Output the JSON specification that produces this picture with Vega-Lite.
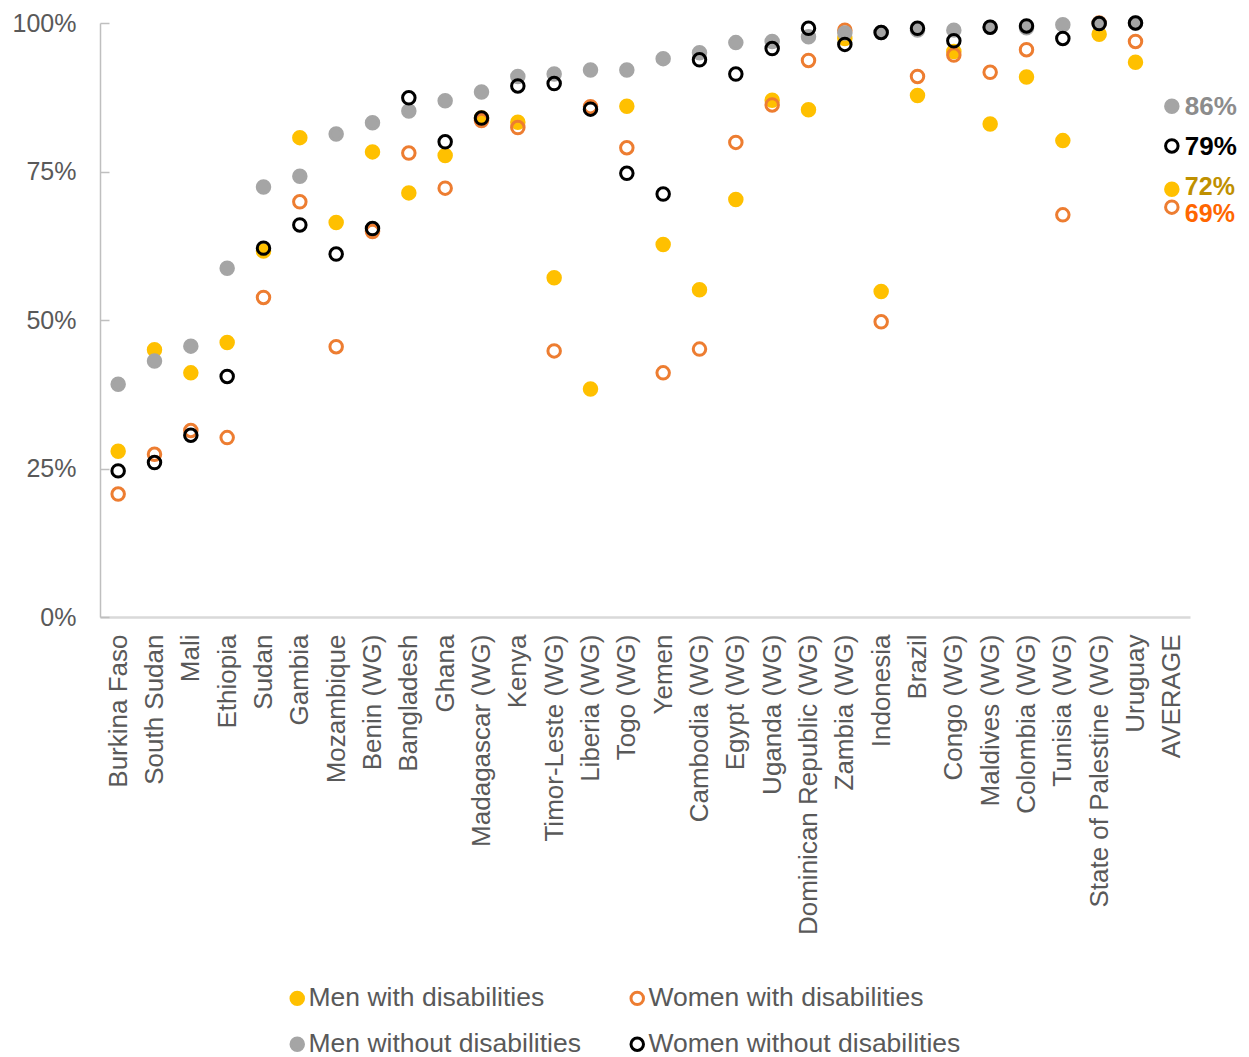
{
  "$schema": "https://vega.github.io/schema/vega-lite/v6.json",
  "width": 1090,
  "height": 594,
  "autosize": {"type": "none"},
  "padding": {"left": 100, "top": 23, "right": 59, "bottom": 440},
  "background": "white",
  "config": {
    "view": {"stroke": null},
    "font": "Liberation Sans",
    "axis": {"labelFont": "Liberation Sans", "labelColor": "#595959", "grid": false, "title": null}
  },
  "data": {
    "values": [
      {"Country": "Burkina Faso", "Men with disabilities": 0.279, "Women with disabilities": 0.207, "Men without disabilities": 0.392, "Women without disabilities": 0.246},
      {"Country": "South Sudan", "Men with disabilities": 0.450, "Women with disabilities": 0.274, "Men without disabilities": 0.431, "Women without disabilities": 0.260},
      {"Country": "Mali", "Men with disabilities": 0.411, "Women with disabilities": 0.314, "Men without disabilities": 0.456, "Women without disabilities": 0.306},
      {"Country": "Ethiopia", "Men with disabilities": 0.462, "Women with disabilities": 0.302, "Men without disabilities": 0.587, "Women without disabilities": 0.405},
      {"Country": "Sudan", "Men with disabilities": 0.616, "Women with disabilities": 0.538, "Men without disabilities": 0.724, "Women without disabilities": 0.621},
      {"Country": "Gambia", "Men with disabilities": 0.807, "Women with disabilities": 0.699, "Men without disabilities": 0.742, "Women without disabilities": 0.660},
      {"Country": "Mozambique", "Men with disabilities": 0.664, "Women with disabilities": 0.455, "Men without disabilities": 0.813, "Women without disabilities": 0.611},
      {"Country": "Benin (WG)", "Men with disabilities": 0.783, "Women with disabilities": 0.649, "Men without disabilities": 0.832, "Women without disabilities": 0.654},
      {"Country": "Bangladesh", "Men with disabilities": 0.714, "Women with disabilities": 0.781, "Men without disabilities": 0.852, "Women without disabilities": 0.874},
      {"Country": "Ghana", "Men with disabilities": 0.777, "Women with disabilities": 0.722, "Men without disabilities": 0.869, "Women without disabilities": 0.800},
      {"Country": "Madagascar (WG)", "Men with disabilities": 0.840, "Women with disabilities": 0.836, "Men without disabilities": 0.884, "Women without disabilities": 0.840},
      {"Country": "Kenya", "Men with disabilities": 0.833, "Women with disabilities": 0.824, "Men without disabilities": 0.910, "Women without disabilities": 0.894},
      {"Country": "Timor-Leste (WG)", "Men with disabilities": 0.571, "Women with disabilities": 0.448, "Men without disabilities": 0.914, "Women without disabilities": 0.898},
      {"Country": "Liberia (WG)", "Men with disabilities": 0.384, "Women with disabilities": 0.859, "Men without disabilities": 0.921, "Women without disabilities": 0.855},
      {"Country": "Togo (WG)", "Men with disabilities": 0.860, "Women with disabilities": 0.790, "Men without disabilities": 0.921, "Women without disabilities": 0.747},
      {"Country": "Yemen", "Men with disabilities": 0.627, "Women with disabilities": 0.411, "Men without disabilities": 0.940, "Women without disabilities": 0.712},
      {"Country": "Cambodia (WG)", "Men with disabilities": 0.551, "Women with disabilities": 0.451, "Men without disabilities": 0.950, "Women without disabilities": 0.938},
      {"Country": "Egypt (WG)", "Men with disabilities": 0.703, "Women with disabilities": 0.799, "Men without disabilities": 0.967, "Women without disabilities": 0.914},
      {"Country": "Uganda (WG)", "Men with disabilities": 0.870, "Women with disabilities": 0.862, "Men without disabilities": 0.969, "Women without disabilities": 0.957},
      {"Country": "Dominican Republic (WG)", "Men with disabilities": 0.854, "Women with disabilities": 0.937, "Men without disabilities": 0.977, "Women without disabilities": 0.991},
      {"Country": "Zambia (WG)", "Men with disabilities": 0.974, "Women with disabilities": 0.988, "Men without disabilities": 0.983, "Women without disabilities": 0.964},
      {"Country": "Indonesia", "Men with disabilities": 0.548, "Women with disabilities": 0.497, "Men without disabilities": 0.984, "Women without disabilities": 0.984},
      {"Country": "Brazil", "Men with disabilities": 0.878, "Women with disabilities": 0.910, "Men without disabilities": 0.988, "Women without disabilities": 0.991},
      {"Country": "Congo (WG)", "Men with disabilities": 0.952, "Women with disabilities": 0.946, "Men without disabilities": 0.988, "Women without disabilities": 0.970},
      {"Country": "Maldives (WG)", "Men with disabilities": 0.830, "Women with disabilities": 0.917, "Men without disabilities": 0.993, "Women without disabilities": 0.993},
      {"Country": "Colombia (WG)", "Men with disabilities": 0.909, "Women with disabilities": 0.955, "Men without disabilities": 0.992, "Women without disabilities": 0.995},
      {"Country": "Tunisia (WG)", "Men with disabilities": 0.802, "Women with disabilities": 0.677, "Men without disabilities": 0.997, "Women without disabilities": 0.974},
      {"Country": "State of Palestine (WG)", "Men with disabilities": 0.981, "Women with disabilities": 1.003, "Men without disabilities": 0.999, "Women without disabilities": 0.999},
      {"Country": "Uruguay", "Men with disabilities": 0.934, "Women with disabilities": 0.969, "Men without disabilities": 1.000, "Women without disabilities": 1.000},
      {"Country": "AVERAGE", "Men with disabilities": 0.720, "Women with disabilities": 0.690, "Men without disabilities": 0.860, "Women without disabilities": 0.793}
    ]
  },
  "transform": [
    {"fold": ["Men with disabilities", "Women with disabilities", "Men without disabilities", "Women without disabilities"], "as": ["series", "value"]}
  ],
  "encoding": {
    "x": {
      "field": "Country", "type": "nominal", "sort": null,
      "scale": {"type": "point", "padding": 0.5},
      "axis": {"labelAngle": -90, "ticks": false, "labelPadding": 17, "labelFontSize": 26, "labelColor": "#595959", "domainColor": "#D9D9D9", "domainWidth": 2.5, "labelOverlap": false, "labelLimit": 400}
    },
    "y": {
      "field": "value", "type": "quantitative",
      "scale": {"domain": [0, 1], "nice": false, "clamp": true},
      "axis": {"values": [0, 0.25, 0.5, 0.75, 1], "format": ".0%", "labelFontSize": 25, "labelColor": "#595959", "domainColor": "#BFBFBF", "domainWidth": 1.5, "tickColor": "#BFBFBF", "tickWidth": 1.5, "tickSize": -9, "labelPadding": 33}
    }
  },
  "layer": [
    {
      "mark": {"type": "point", "shape": "circle", "size": 156, "strokeWidth": 3, "fillOpacity": 1, "strokeOpacity": 1},
      "encoding": {
        "fill": {
          "field": "series", "type": "nominal",
          "scale": {"domain": ["Men with disabilities", "Women with disabilities", "Men without disabilities", "Women without disabilities"], "range": ["#FFC000", "transparent", "#A5A5A5", "transparent"]},
          "legend": {"title": null, "orient": "none", "direction": "horizontal", "legendX": 184, "legendY": 962, "columns": 2, "columnPadding": 43, "rowPadding": 19, "labelFontSize": 26.5, "labelFont": "Liberation Sans", "labelColor": "#595959", "symbolSize": 156, "symbolStrokeWidth": 3, "labelOffset": -2, "labelLimit": 400, "values": ["Men with disabilities", "Women with disabilities", "Men without disabilities", "Women without disabilities"]}
        },
        "stroke": {
          "field": "series", "type": "nominal",
          "scale": {"domain": ["Men with disabilities", "Women with disabilities", "Men without disabilities", "Women without disabilities"], "range": ["#FFC000", "#ED7D31", "#A5A5A5", "#000000"]},
          "legend": {"title": null, "orient": "none", "direction": "horizontal", "legendX": 184, "legendY": 962, "columns": 2, "columnPadding": 43, "rowPadding": 19, "labelFontSize": 26.5, "labelFont": "Liberation Sans", "labelColor": "#595959", "symbolSize": 156, "symbolStrokeWidth": 3, "labelOffset": -2, "labelLimit": 400, "values": ["Men with disabilities", "Women with disabilities", "Men without disabilities", "Women without disabilities"]}
        }
      }
    },
    {
      "transform": [{"filter": "datum.Country === 'AVERAGE' && (datum.series === 'Men without disabilities' || datum.series === 'Women without disabilities')"}],
      "mark": {"type": "text", "align": "left", "baseline": "middle", "dx": 13, "dy": 1, "fontSize": 26, "fontWeight": "bold", "font": "Liberation Sans"},
      "encoding": {
        "text": {"field": "value", "type": "quantitative", "format": ".0%"},
        "color": {
          "field": "series", "type": "nominal", "legend": null,
          "scale": {"domain": ["Men with disabilities", "Women with disabilities", "Men without disabilities", "Women without disabilities"], "range": ["#BF9000", "#FF6600", "#8C8C8C", "#000000"]}
        }
      }
    },
    {
      "transform": [{"filter": "datum.Country === 'AVERAGE' && datum.series === 'Men with disabilities'"}],
      "mark": {"type": "text", "align": "left", "baseline": "middle", "dx": 13, "dy": -2, "fontSize": 25, "fontWeight": "bold", "font": "Liberation Sans"},
      "encoding": {
        "text": {"field": "value", "type": "quantitative", "format": ".0%"},
        "color": {
          "field": "series", "type": "nominal", "legend": null,
          "scale": {"domain": ["Men with disabilities", "Women with disabilities", "Men without disabilities", "Women without disabilities"], "range": ["#BF9000", "#FF6600", "#8C8C8C", "#000000"]}
        }
      }
    },
    {
      "transform": [{"filter": "datum.Country === 'AVERAGE' && datum.series === 'Women with disabilities'"}],
      "mark": {"type": "text", "align": "left", "baseline": "middle", "dx": 13, "dy": 7, "fontSize": 25, "fontWeight": "bold", "font": "Liberation Sans"},
      "encoding": {
        "text": {"field": "value", "type": "quantitative", "format": ".0%"},
        "color": {
          "field": "series", "type": "nominal", "legend": null,
          "scale": {"domain": ["Men with disabilities", "Women with disabilities", "Men without disabilities", "Women without disabilities"], "range": ["#BF9000", "#FF6600", "#8C8C8C", "#000000"]}
        }
      }
    }
  ]
}
